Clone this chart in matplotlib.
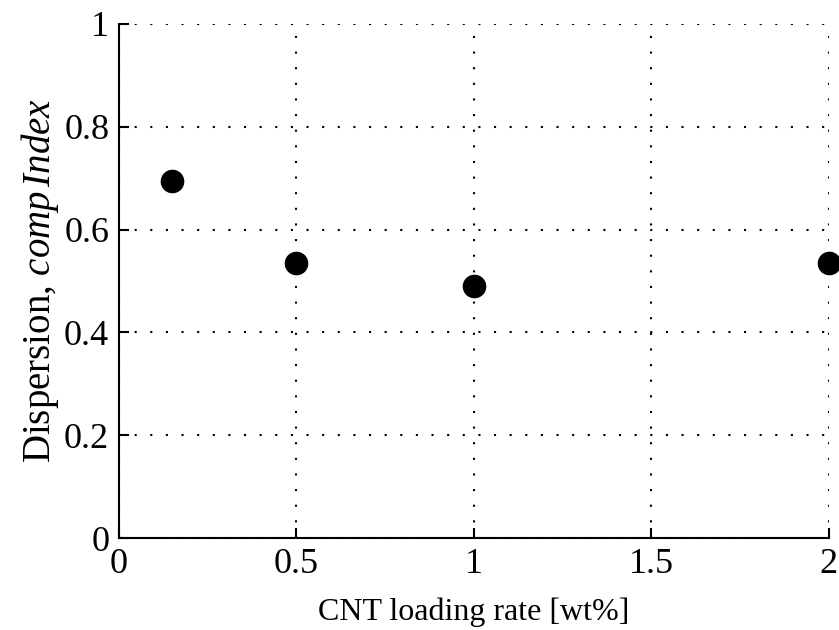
import matplotlib
matplotlib.use("Agg")
import matplotlib.pyplot as plt

# datos
carga_cnt = [0.15, 0.5, 1.0, 2.0]
dispersion = [0.695, 0.535, 0.49, 0.535]
ticks_x = [0, 0.5, 1, 1.5, 2]
ticks_y = [0, 0.2, 0.4, 0.6, 0.8, 1]

plt.rcParams['font.family'] = ['Liberation Serif', 'DejaVu Serif']
plt.rcParams['mathtext.fontset'] = 'custom'
plt.rcParams['mathtext.rm'] = 'Liberation Serif'
plt.rcParams['mathtext.it'] = 'Liberation Serif:italic'

fig = plt.figure(figsize=(8.39, 6.3), dpi=100)
ax = fig.add_axes([0.1418, 0.146, 0.8462, 0.816])

ax.plot(carga_cnt, dispersion, 'o', color='black', markersize=16, clip_on=False, zorder=5)

ax.set_xlim(0, 2)
ax.set_ylim(0, 1)
ax.set_xticks(ticks_x)
ax.set_xticklabels(['0', '0.5', '1', '1.5', '2'])
ax.set_yticks(ticks_y)
ax.set_yticklabels(['0', '0.2', '0.4', '0.6', '0.8', '1'])

# rejilla punteada estilo MATLAB
ax.grid(True, linestyle=(0, (1, 6.5)), color='black', linewidth=1.5)
ax.spines['top'].set_visible(False)
ax.spines['right'].set_visible(False)
ax.spines['left'].set_linewidth(1.5)
ax.spines['bottom'].set_linewidth(1.5)
ax.tick_params(direction='in', length=7, width=1.5, labelsize=26, pad=7)

ax.set_xlabel('CNT loading rate [wt%]', fontsize=23, labelpad=12)
ax.set_ylabel('Dispersion, $\\it{comp\\,Index}$', fontsize=28, labelpad=2)

fig.savefig('out.png', dpi=100)
